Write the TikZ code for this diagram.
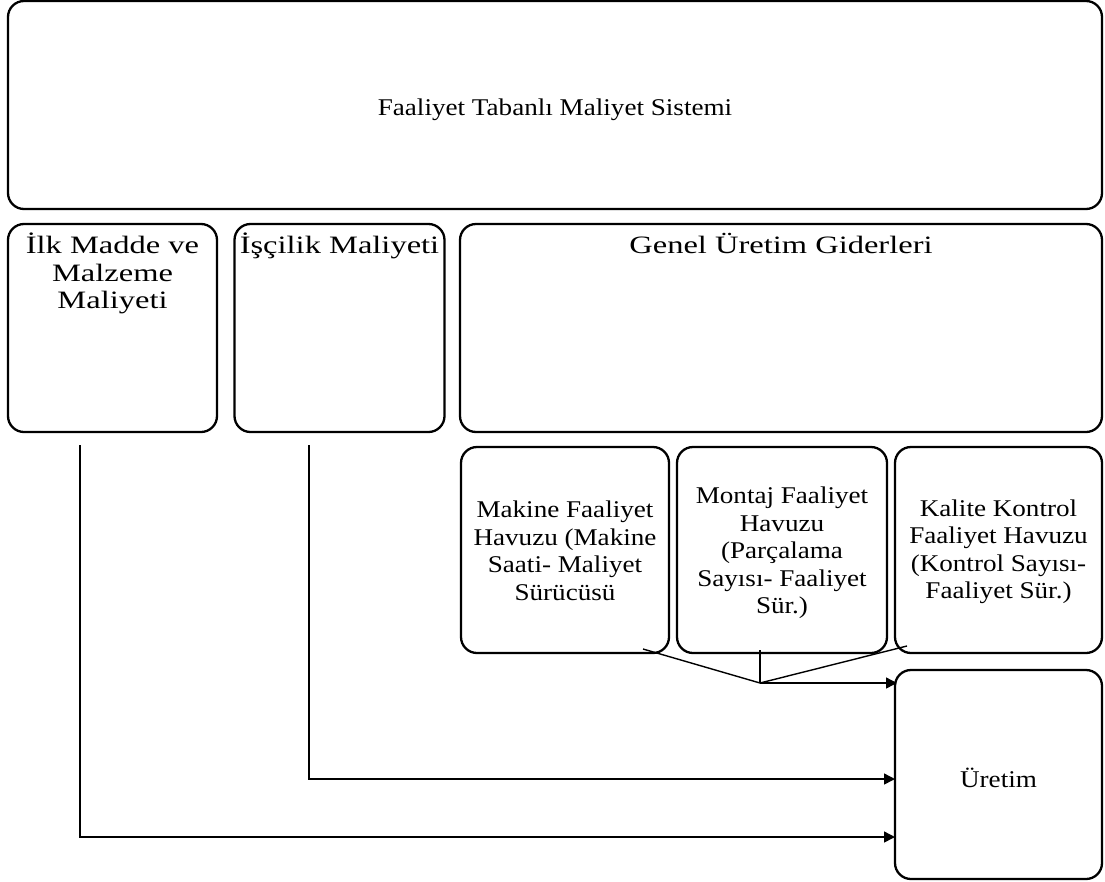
\documentclass[tikz,border=0pt]{standalone}
\usepackage{fontspec}
\setmainfont{Liberation Serif}[FakeStretch=1.13]
\newfontfamily\widefont{Liberation Serif}[FakeStretch=1.3]
\usetikzlibrary{arrows.meta}
\begin{document}
\begin{tikzpicture}[x=1pt,y=-1pt,
  box/.style={draw, line width=2.3pt, rounded corners=16pt, inner sep=0pt},
  txt/.style={align=center, inner sep=0pt, font=\fontsize{24}{27.5}\selectfont},
  wtxt/.style={align=center, inner sep=0pt, font=\widefont\fontsize{25}{27.5}\selectfont},
  conn/.style={line width=1.4pt},
  arr/.style={conn, -{Triangle[length=11pt,width=11pt]}}]
\useasboundingbox (0,0) rectangle (1105,881);
% boxes
\node[box, minimum width=1094pt, minimum height=208pt] (top) at (555,105) {};
\node[txt] (topT) at (555,110) {Faaliyet Tabanlı Maliyet Sistemi};
\node[box, minimum width=209pt, minimum height=208pt] (ilk) at (112.5,328) {};
\node[wtxt, anchor=north] (ilkT) at (112.5,233) {İlk Madde ve\\Malzeme\\Maliyeti};
\node[box, minimum width=210pt, minimum height=208pt] (isc) at (339.5,328) {};
\node[wtxt, anchor=north] (iscT) at (339.5,233) {İşçilik Maliyeti};
\node[box, minimum width=642pt, minimum height=208pt] (genel) at (781,328) {};
\node[wtxt, anchor=north] (genelT) at (781,233) {Genel Üretim Giderleri};
\node[box, minimum width=208pt, minimum height=206pt] (mak) at (565,550) {};
\node[txt] (makT) at (565,551) {Makine Faaliyet\\Havuzu (Makine\\Saati- Maliyet\\Sürücüsü};
\node[box, minimum width=210pt, minimum height=206pt] (mon) at (782,550) {};
\node[txt] (monT) at (782,553) {Montaj Faaliyet\\Havuzu\\(Parçalama\\Sayısı- Faaliyet\\Sür.)};
\node[box, minimum width=207pt, minimum height=206pt] (kal) at (998.5,550) {};
\node[txt] (kalT) at (998.5,552) {Kalite Kontrol\\Faaliyet Havuzu\\(Kontrol Sayısı-\\Faaliyet Sür.)};
\node[box, minimum width=207pt, minimum height=209pt] (ure) at (998.5,774.5) {};
\node[txt] (ureT) at (998.5,778) {Üretim};
% connector points
\coordinate (a1) at (80,445);
\coordinate (u1) at (895,837);
\coordinate (a2) at (309,445);
\coordinate (u2) at (895,779);
\coordinate (j) at (760,683);
\coordinate (m1) at (643,649);
\coordinate (mo) at (760,650);
\coordinate (k1) at (907,646);
\coordinate (u3) at (897,683);
% connectors
\draw[arr] (a1) |- (u1);
\draw[arr] (a2) |- (u2);
\draw[conn] (m1) -- (j);
\draw[conn] (mo) -- (j);
\draw[conn] (k1) -- (j);
\draw[arr] (j) -- (u3);
\end{tikzpicture}
\end{document}
